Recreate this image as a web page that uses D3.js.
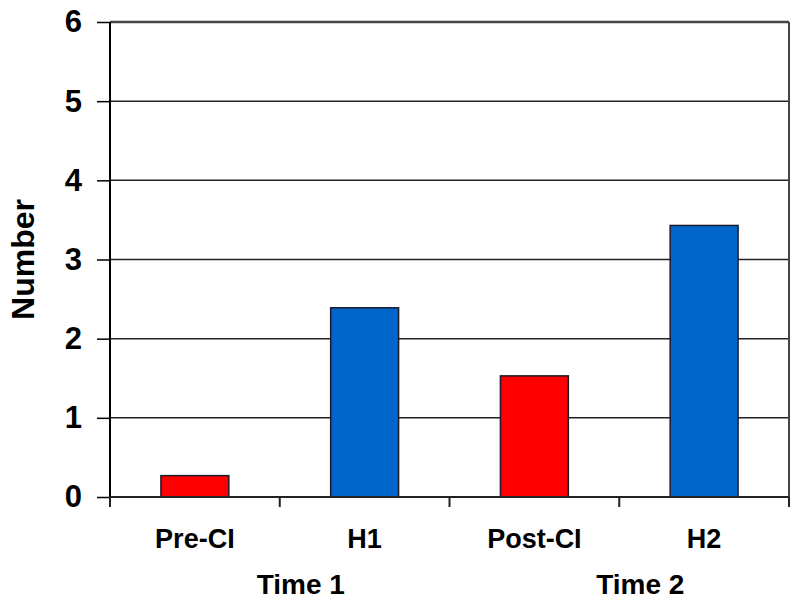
<!DOCTYPE html>
<html>
<head>
<meta charset="utf-8">
<script src="https://d3js.org/d3.v7.min.js"></script>
<style>
  body { margin: 0; background: #fff; }
  text { font-family: "Liberation Sans", Arial, sans-serif; font-weight: bold; fill: #000; }
</style>
</head>
<body>
<div id="chart"></div>
<script>
// data
const categories = ["Pre-CI", "H1", "Post-CI", "H2"];
const values = [0.27, 2.39, 1.53, 3.43];
const barColors = ["#ff0000", "#0066cc", "#ff0000", "#0066cc"];
const groups = ["Time 1", "Time 2"];
const yTicks = [0, 1, 2, 3, 4, 5, 6];

const W = 800, H = 605;
const margin = {top: 22, right: 11, bottom: 108, left: 110};
const width = W - margin.left - margin.right,
      height = H - margin.top - margin.bottom;

const svg = d3.select("#chart").append("svg")
  .attr("width", W).attr("height", H);
const g = svg.append("g")
  .attr("transform", `translate(${margin.left},${margin.top})`);

const x = d3.scaleBand().domain(categories).range([0, width]).paddingInner(0.6).paddingOuter(0.3);
const xb = d3.scaleBand().domain(categories).range([0, width]);
const y = d3.scaleLinear().domain([0, 6]).range([height, 0]);

// gridlines
g.selectAll(".grid").data(yTicks.slice(1)).join("line")
  .attr("x1", 0).attr("x2", width)
  .attr("y1", d => y(d)).attr("y2", d => y(d))
  .attr("stroke", d => d === 6 ? "#444" : "#222")
  .attr("stroke-width", d => d === 6 ? 2.5 : 1.5);

// right border
g.append("line").attr("x1", width).attr("x2", width)
  .attr("y1", y(6)).attr("y2", y(0))
  .attr("stroke", "#444").attr("stroke-width", 2);

// bars
g.selectAll(".bar").data(categories).join("rect")
  .attr("x", d => x(d))
  .attr("width", x.bandwidth())
  .attr("y", (d, i) => y(values[i]))
  .attr("height", (d, i) => y(0) - y(values[i]))
  .attr("fill", (d, i) => barColors[i])
  .attr("stroke", "#1a1a2a").attr("stroke-width", 1.5);

// y axis
const yAxis = g.append("g").call(d3.axisLeft(y).tickValues(yTicks).tickSize(13).tickPadding(15).tickFormat(d3.format("d")));
yAxis.select(".domain").attr("stroke", "#000").attr("stroke-width", 2).attr("d", `M0,${y(0)}V${y(6)}`);
yAxis.selectAll(".tick line").attr("stroke", "#000").attr("stroke-width", 1.5);
yAxis.selectAll(".tick text").style("font-size", "31px").attr("fill", "#000")
  .style("font-family", '"Liberation Sans", Arial, sans-serif').style("font-weight", "bold");

// x axis line and ticks at band boundaries
g.append("line").attr("x1", 0).attr("x2", width)
  .attr("y1", height).attr("y2", height)
  .attr("stroke", "#222").attr("stroke-width", 2);
const bounds = categories.map(c => xb(c)).concat([width]);
g.selectAll(".xtick").data(bounds).join("line")
  .attr("x1", d => d).attr("x2", d => d)
  .attr("y1", height).attr("y2", height + 10)
  .attr("stroke", "#222").attr("stroke-width", 2);

// category labels
g.selectAll(".cat").data(categories).join("text")
  .attr("x", d => xb(d) + xb.bandwidth() / 2)
  .attr("y", height + 51)
  .attr("text-anchor", "middle")
  .style("font-size", "27px")
  .text(d => d);

// group labels
g.selectAll(".grp").data(groups).join("text")
  .attr("x", (d, i) => xb(categories[i * 2 + 1]) + 21)
  .attr("y", height + 97)
  .attr("text-anchor", "middle")
  .style("font-size", "28px")
  .text(d => d);

// y title
svg.append("text")
  .attr("transform", `translate(34,${margin.top + height / 2}) rotate(-90)`)
  .attr("text-anchor", "middle")
  .style("font-size", "32px")
  .text("Number");
</script>
</body>
</html>
